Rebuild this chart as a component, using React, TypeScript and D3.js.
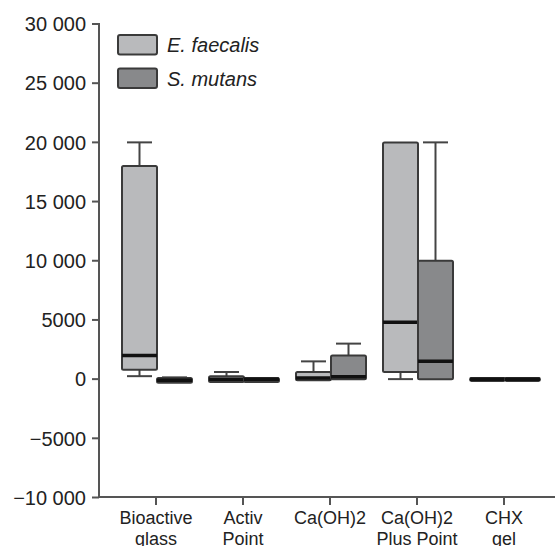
import React from 'react';
import { scaleLinear, scaleBand } from 'd3';

const width = 555;
const height = 546;

// categories (multi-line tick labels)
const categories = ['Bioactive glass', 'Activ Point', 'Ca(OH)2', 'Ca(OH)2 Plus Point', 'CHX gel'];
const categoryLines = [['Bioactive', 'glass'], ['Activ', 'Point'], ['Ca(OH)2'], ['Ca(OH)2', 'Plus Point'], ['CHX', 'gel']];

// box stats: [min, q1, median, q3, max]
const faecalis = [
  [250, 800, 2000, 18000, 20000],
  [-250, -250, 0, 250, 600],
  [-100, -100, 100, 600, 1500],
  [0, 600, 4800, 20000, 20000],
  [-150, -150, 0, 100, 100],
];
const mutans = [
  [-300, -300, -100, 100, 150],
  [-250, -250, 0, 100, 100],
  [0, 0, 200, 2000, 3000],
  [0, 0, 1500, 10000, 20000],
  [-150, -150, 0, 100, 100],
];

const yTicks = [-10000, -5000, 0, 5000, 10000, 15000, 20000, 25000, 30000];
const yTickLabels = ['\u221210 000', '\u22125000', '0', '5000', '10 000', '15 000', '20 000', '25 000', '30 000'];

const seriesNames = ['E. faecalis', 'S. mutans'];
const seriesColors = ['#b9babc', '#88898b'];

const axisX = 99;
const axisY = 497;

const font = 'Liberation Sans, Arial, Helvetica, sans-serif';

const Box = ({ stats, x0, w, y, fill }) => {
  const [min, q1, med, q3, max] = stats;
  const cx = x0 + w / 2;
  const cap = 25;
  return (
    <g>
      {max > q3 && (
        <g stroke="#444" strokeWidth={2}>
          <line x1={cx} x2={cx} y1={y(q3)} y2={y(max)} />
          <line x1={cx - cap / 2} x2={cx + cap / 2} y1={y(max)} y2={y(max)} />
        </g>
      )}
      {min < q1 && (
        <g stroke="#444" strokeWidth={2}>
          <line x1={cx} x2={cx} y1={y(q1)} y2={y(min)} />
          <line x1={cx - cap / 2} x2={cx + cap / 2} y1={y(min)} y2={y(min)} />
        </g>
      )}
      <rect
        x={x0}
        y={y(q3)}
        width={w}
        height={Math.max(1, y(q1) - y(q3))}
        fill={fill}
        stroke="#3a3a3a"
        strokeWidth={2}
        rx={1.5}
      />
      <line x1={x0} x2={x0 + w} y1={y(med)} y2={y(med)} stroke="#111" strokeWidth={3.5} />
    </g>
  );
};

const App = () => {
  const y = scaleLinear().domain([-10000, 30000]).range([497.5, 24]);
  const x = scaleBand().domain(categories).range([112.5, 547.5]).padding(0);
  const boxW = 35;

  return (
    <svg width={width} height={height} style={{ position: 'absolute', left: 0, top: 0, background: '#fff' }}>
      {/* boxes */}
      {categories.map((c, i) => {
        const cx = x(c) + x.bandwidth() / 2 + 1;
        return (
          <g key={c}>
            <Box stats={faecalis[i]} x0={cx - boxW} w={boxW} y={y} fill={seriesColors[0]} />
            <Box stats={mutans[i]} x0={cx} w={boxW} y={y} fill={seriesColors[1]} />
          </g>
        );
      })}

      {/* y axis */}
      <line x1={axisX} x2={axisX} y1={y(30000) - 1} y2={axisY + 1} stroke="#555" strokeWidth={2} />
      {yTicks.map((t, i) => (
        <g key={t} transform={`translate(0,${y(t)})`}>
          <line x1={92} x2={axisX} stroke="#555" strokeWidth={2} />
          <text
            x={86}
            dy="0.36em"
            textAnchor="end"
            fontFamily={font}
            fontSize={20}
            fill="#222"
          >
            {yTickLabels[i]}
          </text>
        </g>
      ))}

      {/* x axis */}
      <line x1={axisX - 1} x2={width} y1={axisY} y2={axisY} stroke="#555" strokeWidth={2} />
      {categories.map((c, i) => {
        const cx = x(c) + x.bandwidth() / 2;
        return (
          <g key={c} transform={`translate(${cx},0)`}>
            <line y1={axisY} y2={axisY + 8} stroke="#555" strokeWidth={2} />
            {categoryLines[i].map((l, j) => (
              <text
                key={l}
                y={524 + j * 21}
                textAnchor="middle"
                fontFamily={font}
                fontSize={18}
                fill="#222"
              >
                {l}
              </text>
            ))}
          </g>
        );
      })}

      {/* legend */}
      {seriesNames.map((s, i) => (
        <g key={s} transform={`translate(118,${35 + i * 33.5})`}>
          <rect width={39} height={19.5} fill={seriesColors[i]} stroke="#3a3a3a" strokeWidth={2} rx={2} />
          <text x={49} y={17} fontFamily={font} fontSize={20} fontStyle="italic" fill="#222">
            {s}
          </text>
        </g>
      ))}
    </svg>
  );
};

export default App;
